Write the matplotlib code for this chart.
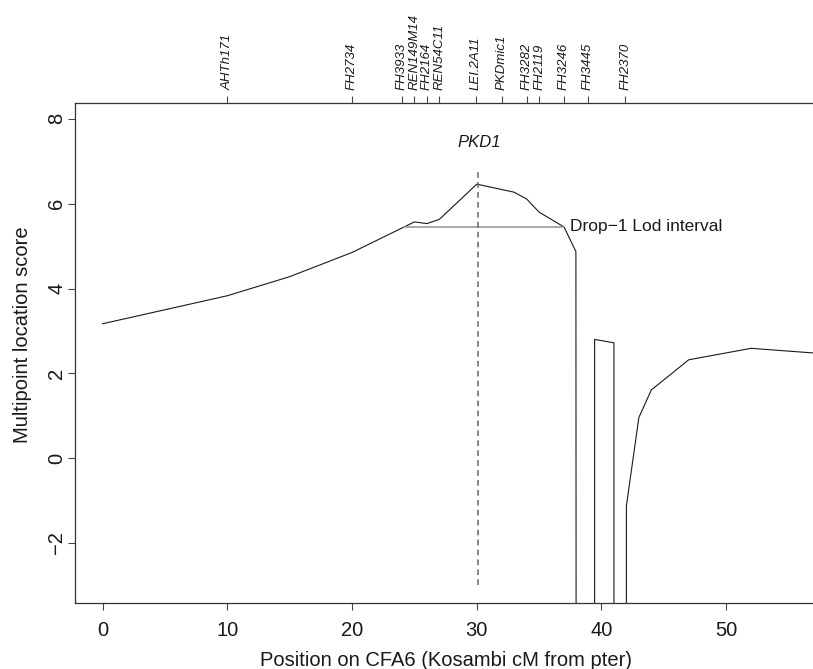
import matplotlib
matplotlib.use("Agg")
import matplotlib.pyplot as plt

plt.rcParams['font.family'] = ['Liberation Sans', 'DejaVu Sans']

# --- data ---
positions = [0, 10, 15, 20, 25, 26, 27, 30, 33, 34, 35, 37, 37.95, 38.05,
             39.45, 39.45, 41.0, 41.0, 42.0, 42.0, 43, 44, 47, 52, 57.5]
scores = [3.17, 3.83, 4.28, 4.85, 5.57, 5.53, 5.63, 6.46, 6.27, 6.11, 5.80, 5.45, 4.87, -50,
          -50, 2.80, 2.72, -50, -50, -1.12, 0.96, 1.61, 2.32, 2.59, 2.47]

marker_names = ["AHTh171", "FH2734", "FH3933", "REN149M14", "FH2164", "REN54C11",
                "LEI.2A11", "PKDmic1", "FH3282", "FH2119", "FH3246", "FH3445", "FH2370"]
marker_pos = [10, 20, 24, 25, 26, 27, 29.9, 32, 34, 35, 37, 38.9, 41.9]

gene_name = "PKD1"
gene_pos = 30.1
gene_line_range = (-3.0, 6.85)
gene_label_y = 7.44

lod_interval = (24.2, 36.9)
lod_level = 5.45
lod_label = "Drop\u22121 Lod interval"

x_ticks = [0, 10, 20, 30, 40, 50]
y_ticks = [-2, 0, 2, 4, 6, 8]

# --- figure ---
fig = plt.figure(figsize=(8.13, 6.69), dpi=100)
ax = fig.add_axes([0.0926, 0.0982, 0.911, 0.7483])

ax.plot(positions, scores, color='#1a1a1a', lw=0.8)
ax.plot(lod_interval, [lod_level, lod_level], color='#9a9a9a', lw=1.2)
ax.plot([gene_pos, gene_pos], gene_line_range, color='#666666', lw=1.1,
        linestyle=(0, (3.7, 2.8)))
ax.text(gene_pos + 0.1, gene_label_y, gene_name, style='italic', fontsize=12,
        ha='center', va='center', color='#1a1a1a')
ax.annotate(lod_label, xy=(lod_interval[1], lod_level), xytext=(5.5, 0),
            textcoords='offset points', fontsize=12.5, ha='left', va='center',
            color='#1a1a1a')

ax.set_xlim(-2.2, 57.2)
ax.set_ylim(-3.42, 8.38)
ax.set_xticks(x_ticks)
ax.set_yticks(y_ticks)
ax.set_yticklabels([str(v).replace('-', '\u2212') for v in y_ticks], rotation=90, va='center')
ax.tick_params(axis='x', length=5, width=0.8, color='#444444', labelsize=14.5,
               pad=7.5, labelcolor='#1a1a1a')
ax.tick_params(axis='y', length=5, width=0.8, color='#444444', labelsize=14.5,
               pad=1.5, labelcolor='#1a1a1a')
for s in ax.spines.values():
    s.set_color('#333333')
    s.set_linewidth(0.9)
ax.spines['right'].set_visible(False)

ax2 = ax.twiny()
ax2.set_xlim(ax.get_xlim())
ax2.set_xticks(marker_pos)
ax2.set_xticklabels(marker_names, rotation=90, style='italic', fontsize=9.5,
                    color='#1a1a1a')
ax2.tick_params(axis='x', length=5, width=0.8, color='#444444', pad=4)
for s in ax2.spines.values():
    s.set_visible(False)

fig.text(22.5 / 813, 1 - 335 / 669, "Multipoint location score", rotation=90,
         ha='center', va='center', fontsize=14.5, color='#1a1a1a')
fig.text(445.6 / 813, 1 - 665.5 / 669, "Position on CFA6 (Kosambi cM from pter)",
         ha='center', va='baseline', fontsize=14.5, color='#1a1a1a')

fig.savefig("out.png", dpi=100)
